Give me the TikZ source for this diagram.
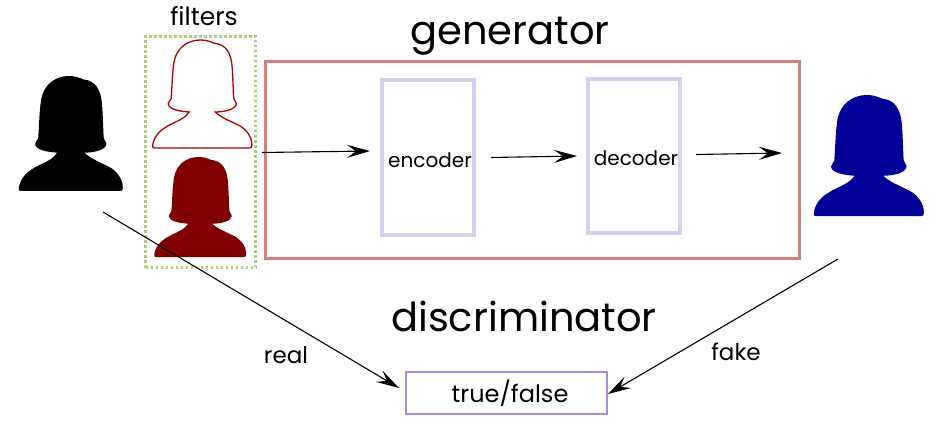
\documentclass[tikz,border=0pt]{standalone}
\usepackage{fontspec}
\setmainfont{Poppins}
\usetikzlibrary{arrows.meta}
\definecolor{genred}{HTML}{D67F7F}
\definecolor{lilac}{HTML}{D4D0EE}
\definecolor{purp}{HTML}{A98BE0}
\definecolor{filtgreen}{HTML}{B2CB7A}
\newcommand\personpath{(-5,0) .. controls (15,0) and (25,5) .. (38,10) .. controls (75,14) and (92,40) .. (95,90) .. controls (98,130) and (98,170) .. (100,187) .. controls (102,195) and (108,198) .. (108,204) .. controls (106,222) and (70,230) .. (42,230) .. controls (55,245) and (90,260) .. (115,272) .. controls (140,285) and (157,310) .. (157,335) .. controls (157,342) and (155,345) .. (150,345) -- (-150,345) .. controls (-155,345) and (-155,342) .. (-155,335) .. controls (-150,305) and (-130,285) .. (-95,268) .. controls (-75,258) and (-50,248) .. (-40,230) .. controls (-70,228) and (-105,222) .. (-106,204) .. controls (-106,198) and (-100,195) .. (-97,187) .. controls (-94,150) and (-94,110) .. (-88,70) .. controls (-80,25) and (-45,0) .. (-5,0) -- cycle}
\tikzset{
  x=1pt,y=-1pt,
  lab/.style={inner sep=0pt,anchor=center,text=black},
  inbox/.style={draw=lilac,line width=4pt,inner sep=0pt},
  arr/.style={draw=black,line width=1.1pt,-{Stealth[length=23pt,width=13pt,inset=9pt]}},
}
\begin{document}
\begin{tikzpicture}
\useasboundingbox (0,0) rectangle (951,433);
% filters box and figures
\node[draw=filtgreen,line width=2.8pt,dash pattern=on 2.8pt off 2.2pt,inner sep=0pt,minimum width=110pt,minimum height=231pt] (filterbox) at (200.5,152) {};
\node[lab,font=\fontsize{25}{27}\selectfont] (filters) at (204,16) {filters};
\begin{scope}[shift={(70.5,76)},scale=0.3333]
\fill[black] \personpath;
\end{scope}
\begin{scope}[shift={(202,40)},xscale=0.318,yscale=0.313]
\draw[draw=red!70!black,fill=white,line width=1.3pt] \personpath;
\end{scope}
\begin{scope}[shift={(200,157)},xscale=0.295,yscale=0.29]
\fill[red!50!black] \personpath;
\end{scope}
\begin{scope}[shift={(868.5,95)},xscale=0.353,yscale=0.351]
\fill[blue!60!black] \personpath;
\end{scope}
% generator
\node[draw=genred,line width=2.5pt,inner sep=0pt,minimum width=534pt,minimum height=197pt] (gen) at (532.5,160) {};
\node[lab,font=\fontsize{40}{42}\selectfont] (gentitle) at (510,36) {generator};
\node[inbox,minimum width=92pt,minimum height=154pt] (enc) at (428,157.5) {};
\node[inbox,minimum width=92pt,minimum height=154pt] (dec) at (633.5,156) {};
\node[lab,font=\fontsize{20}{22}\selectfont] (enclab) at (430,160) {encoder};
\node[lab,font=\fontsize{20}{22}\selectfont] (declab) at (636,158) {decoder};
% discriminator
\node[lab,font=\fontsize{40}{42}\selectfont] (disc) at (524,316) {discriminator};
\node[draw=purp,line width=1.1pt,inner sep=0pt,minimum width=201pt,minimum height=42pt] (tf) at (506.5,393) {};
\node[lab,font=\fontsize{24}{26}\selectfont] (tflab) at (510,393) {true/false};
\node[lab,font=\fontsize{23}{25}\selectfont] (real) at (286,355) {real};
\node[lab,font=\fontsize{23}{25}\selectfont] (fake) at (736,352) {fake};
% connectors
\coordinate (a1) at (262,152.5); \coordinate (a1e) at (370,151);
\coordinate (a2) at (491,157.5); \coordinate (a2e) at (577,156);
\coordinate (a3) at (696,154.5); \coordinate (a3e) at (782,153);
\coordinate (r1) at (103,212); \coordinate (r1e) at (399,388);
\coordinate (f1) at (838,259); \coordinate (f1e) at (608,394);
\draw[arr] (a1) -- (a1e);
\draw[arr] (a2) -- (a2e);
\draw[arr] (a3) -- (a3e);
\draw[arr] (r1) -- (r1e);
\draw[arr] (f1) -- (f1e);
\end{tikzpicture}
\end{document}
